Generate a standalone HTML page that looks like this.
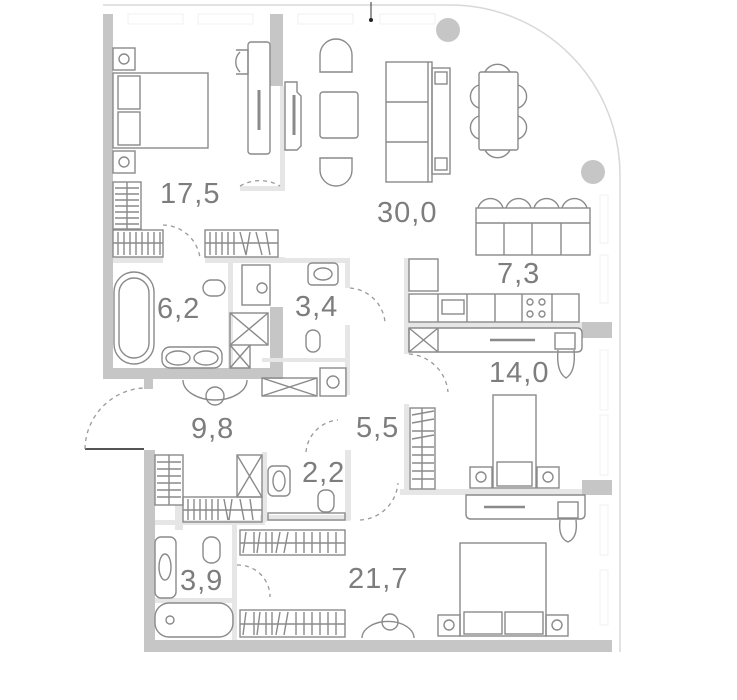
<!DOCTYPE html>
<html><head><meta charset="utf-8"><style>
html,body{margin:0;padding:0;background:#fff;}
svg{display:block}
text{font-family:"Liberation Sans",sans-serif;font-size:29px;fill:#7d7d7d;letter-spacing:1px;}
</style></head><body>
<svg width="737" height="700" viewBox="0 0 737 700" xmlns="http://www.w3.org/2000/svg">
<g fill="none" stroke="#d8d8d8" stroke-width="1.5">
<path d="M103 5 H450 A170 170 0 0 1 620 175 V652"/>
</g>
<line x1="371" y1="2" x2="371" y2="20" stroke="#333" stroke-width="1"/>
<circle cx="371" cy="20" r="2" fill="#222"/>
<g fill="none" stroke="#f0f0f0" stroke-width="1">
<rect x="128" y="14" width="55" height="10"/><rect x="198" y="14" width="55" height="10"/><rect x="298" y="14" width="55" height="10"/><rect x="380" y="14" width="55" height="10"/>
<rect x="600" y="195" width="8" height="48"/><rect x="600" y="255" width="8" height="48"/><rect x="600" y="350" width="8" height="60"/><rect x="600" y="415" width="8" height="60"/><rect x="600" y="505" width="8" height="50"/><rect x="600" y="570" width="8" height="55"/>
</g>
<g fill="#c6c6c6">
<rect x="103" y="14" width="10" height="364"/>
<rect x="103" y="368" width="180" height="11"/>
<rect x="270" y="14" width="13" height="72"/>
<rect x="270" y="307" width="13" height="72"/>
<rect x="144" y="450" width="11" height="202"/>
<rect x="144" y="640" width="468" height="12"/>
<rect x="582" y="322" width="30" height="16"/>
<rect x="582" y="480" width="30" height="15"/>
<rect x="144" y="379" width="9" height="10"/>
<circle cx="448" cy="30" r="12"/>
<circle cx="593" cy="172" r="12"/>
</g>
<line x1="85" y1="449" x2="144" y2="449" stroke="#555" stroke-width="2"/>
<g fill="#e6e6e6">
<rect x="280" y="86" width="5" height="100"/>
<rect x="240" y="186" width="45" height="5"/>
<rect x="113" y="257" width="50" height="6"/>
<rect x="205" y="257" width="80" height="6"/>
<rect x="283" y="258" width="66" height="5"/>
<rect x="345" y="258" width="5" height="30"/>
<rect x="345" y="325" width="5" height="70"/>
<rect x="228" y="263" width="5" height="105"/>
<rect x="404" y="258" width="5" height="96"/>
<rect x="405" y="322" width="177" height="6"/>
<rect x="404" y="404" width="5" height="88"/>
<rect x="400" y="489" width="182" height="6"/>
<rect x="155" y="520" width="110" height="5"/>
<rect x="260" y="515" width="90" height="6"/>
<rect x="345" y="450" width="6" height="70"/>
<rect x="262" y="452" width="5" height="70"/>
<rect x="232" y="525" width="5" height="115"/>
<rect x="155" y="598" width="80" height="5"/>
<rect x="175" y="505" width="8" height="25"/>
<rect x="262" y="358" width="85" height="4"/>
</g>
<g fill="none" stroke="#999" stroke-width="1.3" stroke-dasharray="4 4">
<path d="M240 186 A40 40 0 0 1 280 186"/>
<path d="M163 225 A38 38 0 0 1 200 258"/>
<path d="M350 288 A38 38 0 0 1 385 322"/>
<path d="M85 449 A62 62 0 0 1 144 388"/>
<path d="M409 354 A42 42 0 0 1 448 392"/>
<path d="M306 452 A35 35 0 0 1 338 420"/>
<path d="M360 520 A40 40 0 0 0 398 483"/>
<path d="M237 565 A32 32 0 0 1 270 597"/>
</g>
<g fill="none" stroke="#8a8a8a" stroke-width="1.4">
<rect x="113" y="73" width="95" height="75"/>
<rect x="118" y="76" width="22" height="33"/><rect x="118" y="112" width="22" height="33"/>
<rect x="113" y="48" width="22" height="22"/><circle cx="124" cy="59" r="5"/>
<rect x="113" y="151" width="22" height="22"/><circle cx="124" cy="162" r="5"/>
<rect x="113" y="182" width="28" height="47"/>
<path d="M115 188h24M115 194h24M115 200h24M115 206h24M115 212h24M115 218h24M115 224h24M127 182v47"/>
<rect x="113" y="230" width="50" height="27"/>
<path d="M113 243h50M118 232v23M124 232v23M130 232v23M136 232v23M142 232v23M148 232v23M154 232v23M160 232v23"/>
<rect x="205" y="230" width="73" height="27"/>
<path d="M205 243h73M210 232v23M216 232v23M222 232v23M228 232v23M234 232v23M240 232l6 23M250 232l-4 23M256 232l6 23M266 232l4 23"/>
<rect x="248" y="42" width="22" height="112" rx="3"/>
<path d="M240 52 A14 14 0 0 0 240 72 M236 50h12v24h-12"/>
<line x1="259" y1="90" x2="259" y2="130" stroke-width="3"/>
<path d="M285 82h12v10l4 4v50l-4 4h-12z"/>
<line x1="294" y1="95" x2="294" y2="135" stroke-width="3"/>
<path d="M320 72 L320 55 A16 16 0 0 1 352 55 L352 72 Z"/>
<rect x="320" y="92" width="38" height="46" rx="3"/>
<path d="M320 158 L352 158 L352 170 A16 16 0 0 1 320 170 Z"/>
<rect x="386" y="62" width="46" height="120"/>
<path d="M386 102h42M386 142h42M428 62v120"/>
<rect x="432" y="68" width="18" height="106"/>
<rect x="435" y="72" width="12" height="12"/><rect x="435" y="158" width="12" height="12"/>
<rect x="479" y="72" width="39" height="78" rx="2"/>
<path d="M485 72 A14 14 0 0 1 510 72 M485 150 A14 14 0 0 0 510 150"/>
<path d="M479 85 A12 12 0 0 0 479 108 M479 116 A12 12 0 0 0 479 139 M518 85 A12 12 0 0 1 518 108 M518 116 A12 12 0 0 1 518 139"/>
<rect x="476" y="208" width="114" height="47"/>
<path d="M476 223h114M504 223v32M532 223v32M561 223v32"/>
<path d="M478 208 A13 13 0 0 1 503 208 M506 208 A13 13 0 0 1 531 208 M534 208 A13 13 0 0 1 559 208 M562 208 A13 13 0 0 1 587 208"/>
<rect x="409" y="259" width="29" height="32"/>
<rect x="409" y="294" width="170" height="28"/>
<path d="M438 294v28M467 294v28M495 294v28M522 294v28M552 294v28"/>
<rect x="442" y="300" width="22" height="14"/>
<circle cx="530" cy="302" r="3"/><circle cx="542" cy="302" r="3"/><circle cx="530" cy="314" r="3"/><circle cx="542" cy="314" r="3"/>
<path d="M409 328h168q5 0 5 5v14q0 5 -5 5h-168z"/>
<path d="M409 328v24M438 328v24M409 328l29 24M438 328l-29 24"/>
<line x1="490" y1="340" x2="535" y2="340" stroke-width="2.5"/>
<rect x="555" y="333" width="20" height="16"/>
<path d="M558 350 Q556 372 566 378 Q576 372 574 350"/>
<rect x="493" y="395" width="43" height="93"/>
<rect x="497" y="462" width="35" height="24"/>
<rect x="470" y="467" width="22" height="21"/><circle cx="481" cy="477" r="5"/>
<rect x="537" y="467" width="22" height="21"/><circle cx="548" cy="477" r="5"/>
<rect x="410" y="408" width="25" height="81"/>
<path d="M422 408v81M412 415l22-4M412 423l22-4M412 431h22M412 439l22-4M412 447h22M412 455h22M412 463h22M412 471h22M412 479h22"/>
<path d="M466 495h119v19q0 5 -5 5h-109q-5 0 -5 -5z"/>
<line x1="484" y1="507" x2="525" y2="507" stroke-width="2.5"/>
<rect x="558" y="502" width="20" height="16"/>
<path d="M560 520 Q558 538 568 542 Q578 538 576 520"/>
<rect x="460" y="543" width="86" height="93"/>
<rect x="464" y="612" width="38" height="22"/><rect x="505" y="612" width="38" height="22"/>
<rect x="438" y="615" width="22" height="21"/><circle cx="449" cy="625" r="5"/>
<rect x="546" y="615" width="22" height="21"/><circle cx="557" cy="625" r="5"/>
<path d="M362 638 A22 14 0 0 1 414 638"/><circle cx="390" cy="622" r="8"/>
<path d="M183 380 A32 20 0 0 0 247 380"/><circle cx="215" cy="396" r="9"/>
<rect x="114" y="272" width="40" height="92" rx="20"/>
<rect x="119" y="278" width="30" height="80" rx="15"/>
<rect x="162" y="347" width="60" height="21" rx="8"/>
<ellipse cx="178" cy="358" rx="12" ry="7"/><ellipse cx="206" cy="358" rx="12" ry="7"/>
<rect x="203" y="280" width="22" height="16" rx="8"/>
<rect x="242" y="265" width="28" height="40"/><circle cx="262" cy="288" r="5"/>
<rect x="230" y="313" width="38" height="32"/>
<path d="M230 313l38 32M268 313l-38 32M230 345v23h20v-23M230 345l20 23M250 345l-20 23"/>
<rect x="308" y="263" width="30" height="22" rx="4"/><ellipse cx="323" cy="274" rx="9" ry="6"/>
<rect x="306" y="330" width="14" height="22" rx="7"/>
<rect x="262" y="378" width="55" height="18"/><path d="M262 378l55 18M317 378l-55 18"/>
<rect x="320" y="368" width="26" height="28"/><circle cx="333" cy="382" r="6"/>
<rect x="155" y="455" width="28" height="50"/>
<path d="M169 455v50M157 462h24M157 469h24M157 476h24M157 483h24M157 490h24M157 497h24"/>
<rect x="237" y="455" width="25" height="42"/><path d="M237 455l25 42M262 455l-25 42"/>
<rect x="183" y="497" width="79" height="25"/>
<path d="M183 510h79M188 499v21M194 499v21M200 499v21M206 499v21M212 499v21M218 499v21M224 499l4 21M232 499l-3 21M240 499l4 21M250 499l3 21"/>
<rect x="268" y="466" width="22" height="30" rx="5"/><ellipse cx="279" cy="481" rx="6" ry="10"/>
<rect x="268" y="513" width="77" height="7"/>
<rect x="318" y="490" width="16" height="22" rx="7"/>
<rect x="240" y="530" width="105" height="25"/>
<path d="M240 543h105M246 532l-3 21M254 532v21M260 532l-3 21M266 532v21M272 532v21M280 532l-4 21M288 532l-4 21M296 532v21M304 532v21M312 532v21M320 532v21M328 532v21M336 532v21"/>
<rect x="240" y="610" width="105" height="27"/>
<path d="M240 624h105M246 612l-3 23M254 612v23M260 612l-3 23M266 612v23M272 612v23M280 612l-4 23M288 612l-4 23M296 612v23M304 612v23M312 612v23M320 612v23M328 612v23M336 612v23"/>
<rect x="155" y="537" width="21" height="61" rx="6"/><ellipse cx="165" cy="567" rx="6" ry="13"/>
<rect x="203" y="537" width="17" height="26" rx="8"/>
<rect x="155" y="603" width="78" height="34" rx="14"/>
<circle cx="170" cy="620" r="4"/>
</g>
<text x="160" y="203">17,5</text>
<text x="377" y="222">30,0</text>
<text x="497" y="283">7,3</text>
<text x="157" y="318">6,2</text>
<text x="295" y="316">3,4</text>
<text x="489" y="382">14,0</text>
<text x="191" y="438">9,8</text>
<text x="356" y="437">5,5</text>
<text x="302" y="482">2,2</text>
<text x="180" y="590">3,9</text>
<text x="348" y="588">21,7</text>
</svg>
</body></html>
